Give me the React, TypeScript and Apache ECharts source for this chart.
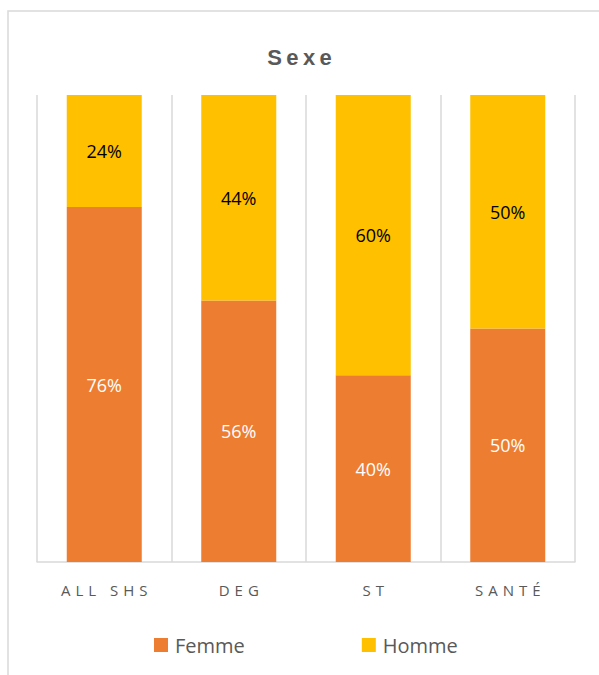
import React, { useEffect, useRef } from "react";
import * as echarts from "echarts";

const categories = ["ALL SHS", "DEG", "ST", "SANTÉ"];
const femme = [76, 56, 40, 50];
const homme = [24, 44, 60, 50];
const titleText = "Sexe";

const spaced = (s: string, sep: string) => s.split("").join(sep);

export default function App() {
  const ref = useRef<HTMLDivElement>(null);
  useEffect(() => {
    if (!ref.current) return;
    const chart = echarts.init(ref.current, null, { renderer: "svg" });
    const font = "'Open Sans', 'Noto Sans', sans-serif";
    chart.setOption({
      animation: false,
      backgroundColor: "#ffffff",
      textStyle: { fontFamily: font },
      title: {
        text: spaced(titleText, "\u2009"),
        left: "center",
        top: 41,
        textStyle: { fontSize: 22, fontWeight: "bold", color: "#595959", fontFamily: "'Liberation Sans', Arial, sans-serif" },
      },
      graphic: [
        {
          type: "rect",
          shape: { x: 8, y: 11, width: 620, height: 700 },
          style: { fill: "none", stroke: "#d9d9d9", lineWidth: 1.5 },
          silent: true,
        },
      ],
      legend: {
        bottom: 15,
        left: 149,
        itemWidth: 14,
        itemHeight: 14,
        itemGap: 117,
        icon: "rect",
        textStyle: { fontSize: 20, color: "#595959", fontFamily: font, padding: [0, 0, 0, 2] },
        data: ["Femme", "Homme"],
      },
      grid: { left: 37, right: 24, top: 95, bottom: 113 },
      xAxis: {
        type: "category",
        data: categories,
        axisLine: { show: true, lineStyle: { color: "#d9d9d9", width: 1.5 } },
        axisTick: { show: false },
        splitLine: { show: true, lineStyle: { color: "#d9d9d9", width: 1.5 } },
        axisLabel: {
          color: "#595959",
          fontSize: 15,
          margin: 20,
          formatter: (v: string) => spaced(v, "\u2004"),
        },
      },
      yAxis: {
        type: "value",
        min: 0,
        max: 100,
        show: false,
        splitLine: { show: false },
      },
      series: [
        {
          name: "Femme",
          type: "bar",
          stack: "total",
          barWidth: 75,
          data: femme,
          itemStyle: { color: "#ED7D31" },
          label: {
            show: true,
            position: "inside",
            formatter: "{c}%",
            color: "#ffffff",
            fontSize: 18,
            fontFamily: font,
          },
        },
        {
          name: "Homme",
          type: "bar",
          stack: "total",
          barWidth: 75,
          data: homme,
          itemStyle: { color: "#FFC000" },
          label: {
            show: true,
            position: "inside",
            formatter: "{c}%",
            color: "#000000",
            fontSize: 18,
            fontFamily: font,
          },
        },
      ],
    });
    return () => chart.dispose();
  }, []);
  return (
    <div
      ref={ref}
      style={{ position: "absolute", left: 0, top: 0, width: 599, height: 675 }}
    />
  );
}
